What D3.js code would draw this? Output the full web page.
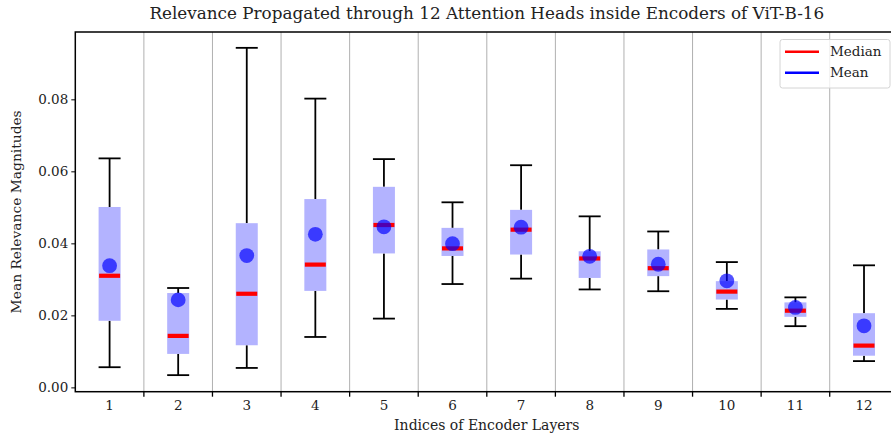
<!DOCTYPE html>
<html>
<head>
<meta charset="utf-8">
<script src="https://cdn.jsdelivr.net/npm/d3@7"></script>
<style>
  body { margin: 0; background: #fff; }
  text { font-family: "DejaVu Serif", serif; }
</style>
</head>
<body>
<div id="chart"></div>
<script>
// values
var layers = ["1", "2", "3", "4", "5", "6", "7", "8", "9", "10", "11", "12"];
var whiskerLow  = [0.0056, 0.0034, 0.0054, 0.0140, 0.0191, 0.0287, 0.0302, 0.0272, 0.0267, 0.0218, 0.0170, 0.0073];
var boxLow      = [0.0185, 0.0093, 0.0117, 0.0268, 0.0372, 0.0365, 0.0369, 0.0304, 0.0309, 0.0244, 0.0196, 0.0088];
var medians     = [0.0310, 0.0143, 0.0260, 0.0341, 0.0451, 0.0386, 0.0438, 0.0358, 0.0331, 0.0266, 0.0213, 0.0116];
var means       = [0.0338, 0.0243, 0.0366, 0.0425, 0.0446, 0.0399, 0.0445, 0.0364, 0.0342, 0.0296, 0.0222, 0.0171];
var boxHigh     = [0.0501, 0.0262, 0.0456, 0.0523, 0.0557, 0.0443, 0.0493, 0.0378, 0.0383, 0.0295, 0.0236, 0.0206];
var whiskerHigh = [0.0636, 0.0276, 0.0943, 0.0802, 0.0634, 0.0514, 0.0617, 0.0475, 0.0433, 0.0348, 0.0250, 0.0339];
var yTicks = [0, 0.02, 0.04, 0.06, 0.08];

var svgWidth = 891;
var svgHeight = 438;
var margin = { top: 32, left: 75.3 };
var width = 823;      // plot runs past the right edge of the picture
var height = 359.7;

var data = layers.map(function (l, i) {
    return { layer: l, wl: whiskerLow[i], bl: boxLow[i], med: medians[i],
             mean: means[i], bh: boxHigh[i], wh: whiskerHigh[i] };
});

var svg = d3.select("#chart").append("svg")
    .attr("width", svgWidth)
    .attr("height", svgHeight);

var chartGroup = svg.append("g")
    .attr("transform", `translate(${margin.left}, ${margin.top})`);

var x = d3.scaleBand().domain(layers).range([0, width]).padding(0);
var y = d3.scaleLinear().domain([-0.0012, 0.0987]).range([height, 0]);
var cx = d => x(d.layer) + x.bandwidth() / 2;

// vertical grid at layer boundaries
var bounds = layers.slice(1).map(l => x(l));
chartGroup.selectAll(".grid")
    .data(bounds)
    .enter().append("line")
    .attr("x1", d => d).attr("x2", d => d)
    .attr("y1", 0).attr("y2", height)
    .attr("stroke", "#b0b0b0")
    .attr("stroke-width", 1);

// whiskers
var boxW = 22;
chartGroup.selectAll(".wlow").data(data).enter().append("line")
    .attr("x1", cx).attr("x2", cx)
    .attr("y1", d => y(d.bl)).attr("y2", d => y(d.wl))
    .attr("stroke", "black").attr("stroke-width", 1.8);
chartGroup.selectAll(".whigh").data(data).enter().append("line")
    .attr("x1", cx).attr("x2", cx)
    .attr("y1", d => y(d.bh)).attr("y2", d => y(d.wh))
    .attr("stroke", "black").attr("stroke-width", 1.8);
["wl", "wh"].forEach(function (k) {
    chartGroup.selectAll(".cap-" + k).data(data).enter().append("line")
        .attr("x1", d => cx(d) - boxW / 2).attr("x2", d => cx(d) + boxW / 2)
        .attr("y1", d => y(d[k])).attr("y2", d => y(d[k]))
        .attr("stroke", "black").attr("stroke-width", 1.8);
});

// boxes
chartGroup.selectAll(".box").data(data).enter().append("rect")
    .attr("x", d => cx(d) - boxW / 2)
    .attr("width", boxW)
    .attr("y", d => y(d.bh))
    .attr("height", d => y(d.bl) - y(d.bh))
    .attr("fill", "#b3b3ff");

// medians
chartGroup.selectAll(".med").data(data).enter().append("line")
    .attr("x1", d => cx(d) - 10.5).attr("x2", d => cx(d) + 10.5)
    .attr("y1", d => y(d.med)).attr("y2", d => y(d.med))
    .attr("stroke", "red").attr("stroke-width", 4.2);

// means
chartGroup.selectAll(".mean").data(data).enter().append("circle")
    .attr("cx", cx)
    .attr("cy", d => y(d.mean))
    .attr("r", 7.4)
    .attr("fill", "blue")
    .attr("opacity", 0.68);

// axes
var leftAxis = d3.axisLeft(y).tickValues(yTicks).tickFormat(d3.format(".2f")).tickSizeOuter(0).tickSize(4);
var yAxisG = chartGroup.append("g").call(leftAxis);
yAxisG.select(".domain").remove();
yAxisG.selectAll("line").attr("stroke-width", 1);
yAxisG.selectAll("text").attr("font-size", "13.5px").attr("fill", "#222")
    .attr("font-family", "DejaVu Serif").attr("x", -7);

var bottomAxis = d3.axisBottom(x).tickSize(0);
var xAxisG = chartGroup.append("g")
    .attr("transform", `translate(0, ${height})`)
    .call(bottomAxis);
xAxisG.select(".domain").remove();
xAxisG.selectAll("text").attr("font-size", "13.5px").attr("fill", "#222")
    .attr("font-family", "DejaVu Serif").attr("dy", "1.15em");
chartGroup.append("g").selectAll("line").data(bounds).enter().append("line")
    .attr("x1", d => d).attr("x2", d => d)
    .attr("y1", height).attr("y2", height + 5)
    .attr("stroke", "black").attr("stroke-width", 1.3);

// spines
chartGroup.append("rect")
    .attr("x", 0).attr("y", 0)
    .attr("width", width).attr("height", height)
    .attr("fill", "none")
    .attr("stroke", "black")
    .attr("stroke-width", 1.5);

// legend
var legend = chartGroup.append("g").attr("transform", `translate(${780 - margin.left}, ${39.5 - margin.top})`);
legend.append("rect")
    .attr("width", 110).attr("height", 48.5)
    .attr("rx", 2.5)
    .attr("fill", "white").attr("fill-opacity", 0.8)
    .attr("stroke", "#d4d4d4").attr("stroke-width", 1);
[["Median", "red"], ["Mean", "blue"]].forEach(function (e, i) {
    legend.append("line")
        .attr("x1", 5).attr("x2", 39)
        .attr("y1", 12.2 + i * 21).attr("y2", 12.2 + i * 21)
        .attr("stroke", e[1]).attr("stroke-width", 2.5);
    legend.append("text")
        .attr("x", 50).attr("y", 12.2 + i * 21)
        .attr("dy", "0.35em")
        .attr("font-size", "13.5px").attr("fill", "#222")
        .text(e[0]);
});

// labels
svg.append("text")
    .attr("x", margin.left + width / 2).attr("y", 19)
    .attr("text-anchor", "middle")
    .attr("font-size", "16.8px").attr("fill", "#222")
    .text("Relevance Propagated through 12 Attention Heads inside Encoders of ViT-B-16");

svg.append("text")
    .attr("x", margin.left + width / 2).attr("y", 430)
    .attr("text-anchor", "middle")
    .attr("font-size", "14px").attr("fill", "#222")
    .text("Indices of Encoder Layers");

svg.append("text")
    .attr("transform", "rotate(-90)")
    .attr("x", -(margin.top + height / 2)).attr("y", 21)
    .attr("text-anchor", "middle")
    .attr("font-size", "13.8px").attr("fill", "#222")
    .text("Mean Relevance Magnitudes");
</script>
</body>
</html>
